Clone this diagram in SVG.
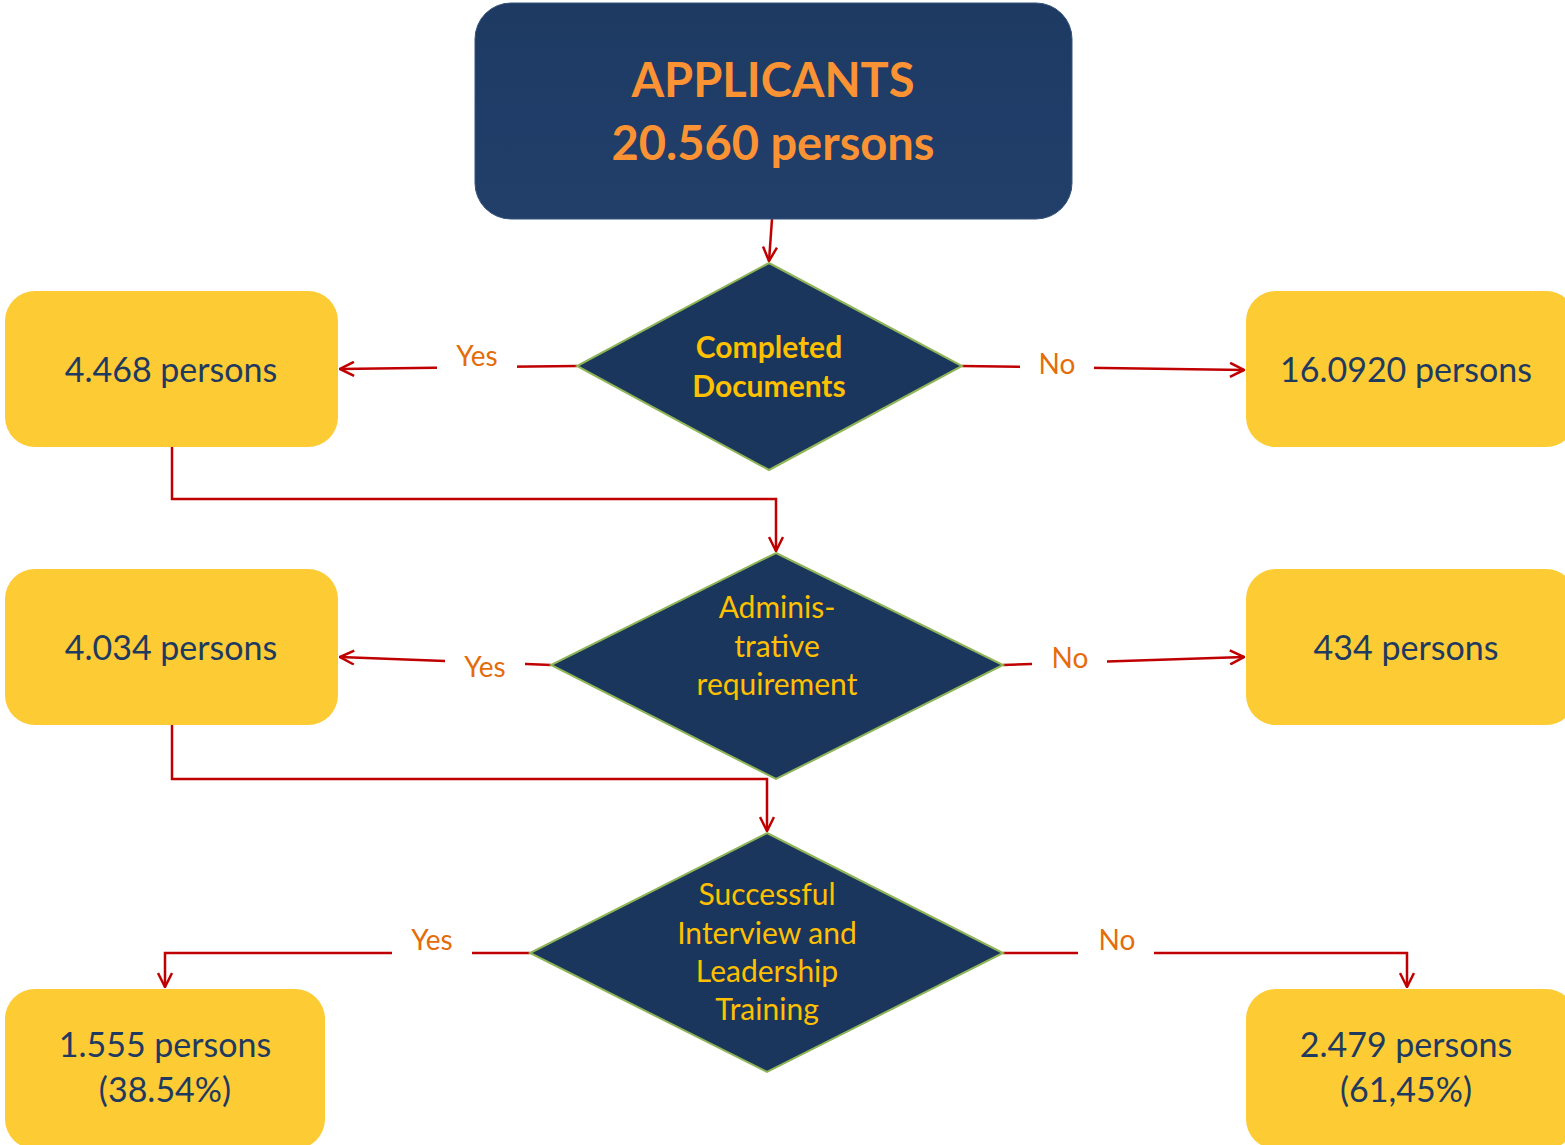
<svg xmlns="http://www.w3.org/2000/svg" width="1565" height="1145" viewBox="0 0 1565 1145">
<style>
.box{fill:#fdcb34}
.bt{font-family:Lato,"Liberation Sans",sans-serif;font-size:34px;fill:#1f3a60;text-anchor:middle}
.dia{fill:#1a365d;stroke:#8fb556;stroke-width:2}
.dt{font-family:Lato,"Liberation Sans",sans-serif;font-size:30px;fill:#ffc000;text-anchor:middle}
.lbl{font-family:Lato,"Liberation Sans",sans-serif;font-size:28px;fill:#e46c0a;text-anchor:middle}
.con{fill:none;stroke:#c00000;stroke-width:2.5}
.top{font-family:Lato,"Liberation Sans",sans-serif;font-weight:bold;font-size:47px;fill:#fb9233;text-anchor:middle}
</style>
<defs>
<marker id="ah" viewBox="0 0 16 16" refX="15" refY="8" markerWidth="16" markerHeight="16" markerUnits="userSpaceOnUse" orient="auto">
<path d="M1,1 L15,8 L1,15" fill="none" stroke="#c00000" stroke-width="2.5"/>
</marker>
<linearGradient id="tg" x1="0" y1="0" x2="0" y2="1">
<stop offset="0" stop-color="#1e3a62"/>
<stop offset="0.5" stop-color="#1f3d68"/>
<stop offset="1" stop-color="#213f68"/>
</linearGradient>
</defs>
<rect width="1565" height="1145" fill="#ffffff"/>

<g id="connectors">
<path class="con" d="M772,219 L769,261" marker-end="url(#ah)"/>
<path class="con" d="M577,366 L340,369" marker-end="url(#ah)"/>
<path class="con" d="M962,366 L1244,370" marker-end="url(#ah)"/>
<path class="con" d="M172,447 L172,499 L776,499 L776,551" marker-end="url(#ah)"/>
<path class="con" d="M551,665 L340,657" marker-end="url(#ah)"/>
<path class="con" d="M1003,665 L1244,657" marker-end="url(#ah)"/>
<path class="con" d="M172,725 L172,779 L767,779 L767,831" marker-end="url(#ah)"/>
<path class="con" d="M530,953 L165,953 L165,987" marker-end="url(#ah)"/>
<path class="con" d="M1003,953 L1407,953 L1407,987" marker-end="url(#ah)"/>
<rect x="437" y="340" width="80" height="40" fill="#ffffff"/>
<text class="lbl" x="477" y="366">Yes</text>
<rect x="1020" y="345" width="74" height="40" fill="#ffffff"/>
<text class="lbl" x="1057" y="374">No</text>
<rect x="445" y="648" width="80" height="40" fill="#ffffff"/>
<text class="lbl" x="485" y="677">Yes</text>
<rect x="1032" y="640" width="75" height="40" fill="#ffffff"/>
<text class="lbl" x="1070" y="668">No</text>
<rect x="392" y="920" width="80" height="50" fill="#ffffff"/>
<text class="lbl" x="432" y="950">Yes</text>
<rect x="1078" y="920" width="76" height="50" fill="#ffffff"/>
<text class="lbl" x="1117" y="950">No</text>
</g>

<g id="applicants">
<rect x="475" y="3" width="597" height="216" rx="36" fill="url(#tg)" stroke="#34527c" stroke-width="1"/>
<text class="top" x="773" y="97">APPLICANTS</text>
<text class="top" x="773" y="160">20.560 persons</text>
</g>

<g id="d1">
<polygon class="dia" points="769,263 962,366 769,470 577,366"/>
<text class="dt" x="769" y="358" font-weight="bold">Completed</text>
<text class="dt" x="769" y="397" font-weight="bold">Documents</text>
</g>

<g id="d2">
<polygon class="dia" points="776,553 1003,665 776,779 551,665"/>
<text class="dt" x="777" y="618">Adminis-</text>
<text class="dt" x="777" y="657">trative</text>
<text class="dt" x="777" y="695">requirement</text>
</g>

<g id="d3">
<polygon class="dia" points="767,833 1003,953 767,1072 530,953"/>
<text class="dt" x="767" y="905">Successful</text>
<text class="dt" x="767" y="944">Interview and</text>
<text class="dt" x="767" y="982">Leadership</text>
<text class="dt" x="767" y="1020">Training</text>
</g>

<g id="b1">
<rect class="box" x="5" y="291" width="333" height="156" rx="30"/>
<text class="bt" x="171" y="382">4.468 persons</text>
</g>
<g id="b2">
<rect class="box" x="1246" y="291" width="330" height="156" rx="30"/>
<text class="bt" x="1406" y="382">16.0920 persons</text>
</g>
<g id="b3">
<rect class="box" x="5" y="569" width="333" height="156" rx="30"/>
<text class="bt" x="171" y="660">4.034 persons</text>
</g>
<g id="b4">
<rect class="box" x="1246" y="569" width="330" height="156" rx="30"/>
<text class="bt" x="1406" y="660">434 persons</text>
</g>
<g id="b5">
<rect class="box" x="5" y="989" width="320" height="160" rx="30"/>
<text class="bt" x="165" y="1057">1.555 persons</text>
<text class="bt" x="165" y="1102">(38.54%)</text>
</g>
<g id="b6">
<rect class="box" x="1246" y="989" width="330" height="160" rx="30"/>
<text class="bt" x="1406" y="1057">2.479 persons</text>
<text class="bt" x="1406" y="1102">(61,45%)</text>
</g>
</svg>
